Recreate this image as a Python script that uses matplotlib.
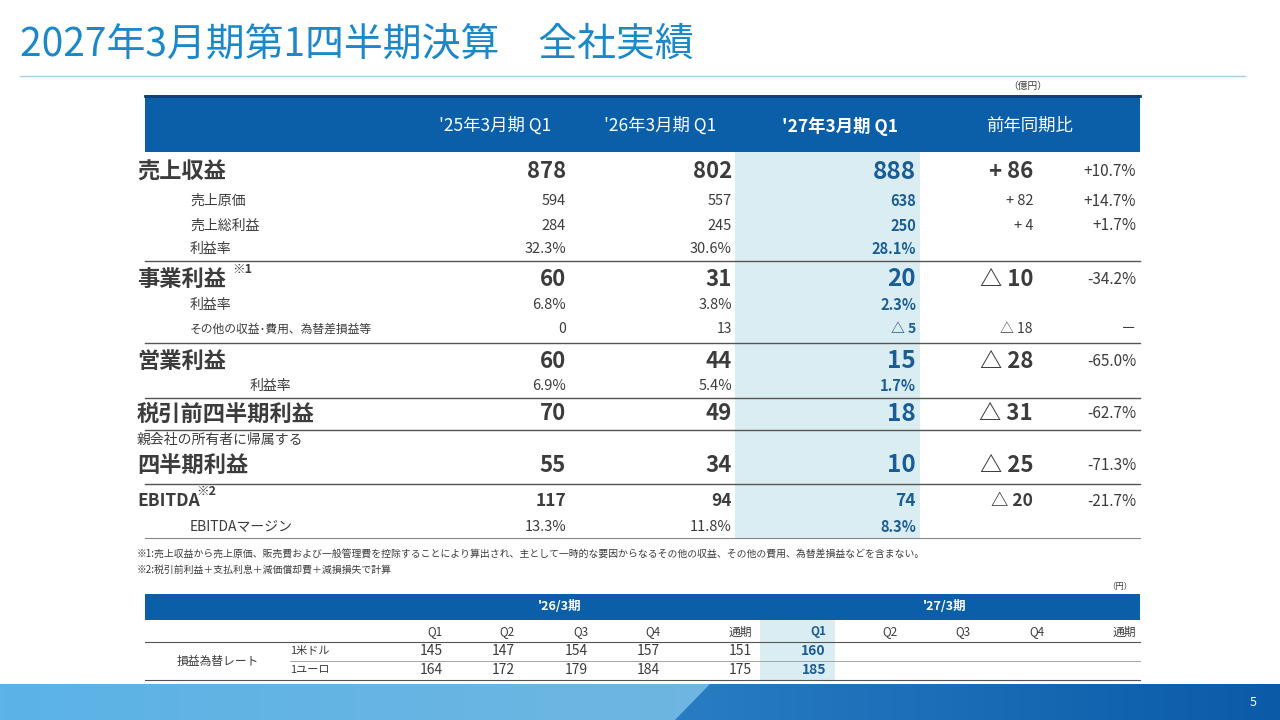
import matplotlib
matplotlib.use("Agg")
import matplotlib.pyplot as plt
import numpy as np
from matplotlib.patches import Rectangle, Polygon
from matplotlib.colors import LinearSegmentedColormap

plt.rcParams['font.family'] = ['Noto Sans CJK JP', 'DejaVu Sans']

title = "2027年3月期第1四半期決算　全社実績"
col_headers = ["'25年3月期 Q1", "'26年3月期 Q1", "'27年3月期 Q1", "前年同期比"]
row_labels = ["売上収益", "売上原価", "売上総利益", "利益率", "事業利益", "利益率",
              "その他の収益･費用、為替差損益等", "営業利益", "利益率", "税引前四半期利益",
              "四半期利益", "EBITDA", "EBITDAマージン"]
fy25 = ["878", "594", "284", "32.3%", "60", "6.8%", "0", "60", "6.9%", "70", "55", "117", "13.3%"]
fy26 = ["802", "557", "245", "30.6%", "31", "3.8%", "13", "44", "5.4%", "49", "34", "94", "11.8%"]
fy27 = ["888", "638", "250", "28.1%", "20", "2.3%", "△ 5", "15", "1.7%", "18", "10", "74", "8.3%"]
diff = ["+ 86", "+ 82", "+ 4", "", "△ 10", "", "△ 18", "△ 28", "", "△ 31", "△ 25", "△ 20", ""]
pct = ["+10.7%", "+14.7%", "+1.7%", "", "-34.2%", "", "－", "-65.0%", "", "-62.7%", "-71.3%", "-21.7%", ""]

fx_cols = ["Q1", "Q2", "Q3", "Q4", "通期", "Q1", "Q2", "Q3", "Q4", "通期"]
fx_usd = ["145", "147", "154", "157", "151", "160", "", "", "", ""]
fx_eur = ["164", "172", "179", "184", "175", "185", "", "", "", ""]

# layout
row_y = [172, 201, 226, 249, 279, 305, 329, 361, 386, 414, 465, 501, 527]
row_kind = ["big", "sub", "sub", "sub", "big", "sub", "tiny", "big", "sub2", "big", "big", "mid", "sub3"]
sep_lines = [261, 343, 398, 430, 484]

fig = plt.figure(figsize=(12.8, 7.2), dpi=100)
ax = fig.add_axes([0, 0, 1, 1])
ax.set_xlim(0, 1280); ax.set_ylim(720, 0); ax.axis('off')

DARK = '#3c3c3c'
BLUE = '#0a5fa8'
HL = '#daedf3'
VBLUE = '#1a5d96'

ax.text(20, 45, title, fontsize=28, color='#1a88c9', va='center', ha='left')
ax.plot([20, 1245], [76, 76], color='#9fd0ea', lw=1)
ax.text(1008, 86, "（億円）", fontsize=7, color=DARK, va='center')

# header band
ax.add_patch(Rectangle((145, 95), 995, 57, color=BLUE, lw=0))
ax.plot([145, 1140], [96, 96], color='#0a3f7a', lw=2)
hx = [495, 660, 840, 1030]
for i, h in enumerate(col_headers):
    ax.text(hx[i], 126, h, fontsize=12.5, color='white', ha='center', va='center',
            fontweight='bold' if i == 2 else 'normal')
ax.add_patch(Rectangle((735, 152), 185, 386, color=HL, lw=0))

for yl in sep_lines:
    ax.plot([145, 1140], [yl, yl], color='#555555', lw=1)
ax.plot([145, 1140], [538, 538], color='#888888', lw=0.8)

sizes = {"big": 16, "sub": 10, "sub2": 10, "sub3": 10, "tiny": 8.5, "mid": 12.5}
vsizes = {"big": 16, "sub": 10.5, "sub2": 10.5, "sub3": 10.5, "tiny": 10, "mid": 12.5}
for i, lab in enumerate(row_labels):
    k = row_kind[i]; y = row_y[i]
    bold = k in ("big", "mid")
    lx = {"big": 137, "mid": 137, "sub": 190, "tiny": 190, "sub2": 250, "sub3": 190}[k]
    ax.text(lx, y, lab, fontsize=sizes[k], color=DARK, va='center', ha='left',
            fontweight='bold' if bold else 'normal')
    if lab in ("事業利益", "EBITDA"):
        sx = 232 if lab == "事業利益" else 196
        ax.text(sx, y - 10, "※1" if lab == "事業利益" else "※2", fontsize=9,
                color=DARK, va='center', ha='left', fontweight='bold')
    vs = vsizes[k]
    ax.text(566, y, fy25[i], fontsize=vs, color=DARK, ha='right', va='center', fontweight='bold' if bold else 'normal')
    ax.text(732, y, fy26[i], fontsize=vs, color=DARK, ha='right', va='center', fontweight='bold' if bold else 'normal')
    ax.text(916, y, fy27[i], fontsize=vs + (1.5 if k == "big" else 0), color=VBLUE, ha='right', va='center', fontweight='bold')
    ax.text(1033, y, diff[i], fontsize=vs, color=DARK, ha='right', va='center', fontweight='bold' if bold else 'normal')
    ax.text(1136, y, pct[i], fontsize=11, color=DARK, ha='right', va='center')
ax.text(137, 440, "親会社の所有者に帰属する", fontsize=10, color=DARK, va='center')

ax.text(137, 554, "※1:売上収益から売上原価、販売費および一般管理費を控除することにより算出され、主として一時的な要因からなるその他の収益、その他の費用、為替差損益などを含まない。",
        fontsize=7.1, color=DARK, va='center')
ax.text(137, 570, "※2:税引前利益＋支払利息＋減価償却費＋減損損失で計算", fontsize=7.1, color=DARK, va='center')

# FX table
ax.text(1132, 586, "（円）", fontsize=6, color=DARK, va='center', ha='right')
ax.add_patch(Rectangle((145, 594), 995, 26, color=BLUE, lw=0))
ax.text(560, 607, "'26/3期", fontsize=9, color='white', ha='center', va='center', fontweight='bold')
ax.text(945, 607, "'27/3期", fontsize=9, color='white', ha='center', va='center', fontweight='bold')
ax.add_patch(Rectangle((760, 620), 75, 60, color=HL, lw=0))
fxx = [443, 515, 588, 660, 752, 826, 898, 970, 1045, 1136]
for j, c in enumerate(fx_cols):
    ax.text(fxx[j], 632, c, fontsize=8.5, color=VBLUE if j == 5 else DARK, ha='right', va='center',
            fontweight='bold' if j == 5 else 'normal')
    for yv, arr in ((651, fx_usd), (670, fx_eur)):
        ax.text(fxx[j], yv, arr[j], fontsize=10, color=VBLUE if j == 5 else DARK, ha='right', va='center',
                fontweight='bold' if j == 5 else 'normal')
ax.plot([145, 1140], [642, 642], color='#555555', lw=0.8)
ax.plot([290, 1140], [661, 661], color='#999999', lw=0.6)
ax.plot([145, 1140], [680, 680], color='#555555', lw=0.8)
ax.text(218, 661, "損益為替レート", fontsize=8.5, color=DARK, ha='center', va='center')
ax.text(310, 651, "1米ドル", fontsize=8, color=DARK, ha='center', va='center')
ax.text(310, 670, "1ユーロ", fontsize=8, color=DARK, ha='center', va='center')

# footer gradient
grad = np.linspace(0, 1, 256).reshape(1, -1)
cm1 = LinearSegmentedColormap.from_list('f1', ['#5bb3e6', '#7fb8de'])
cm2 = LinearSegmentedColormap.from_list('f2', ['#2a7fc4', '#0a5aa8'])
ax.imshow(grad, cmap=cm1, extent=(0, 1280, 720, 684), aspect='auto', zorder=1)
im = ax.imshow(grad, cmap=cm2, extent=(640, 1280, 720, 684), aspect='auto', zorder=2)
im.set_clip_path(Polygon([[675, 720], [710, 684], [1280, 684], [1280, 720]], closed=True, transform=ax.transData))
ax.text(1253, 702, "5", fontsize=9, color='white', ha='center', va='center', zorder=3)

fig.savefig("out.png", dpi=100)
